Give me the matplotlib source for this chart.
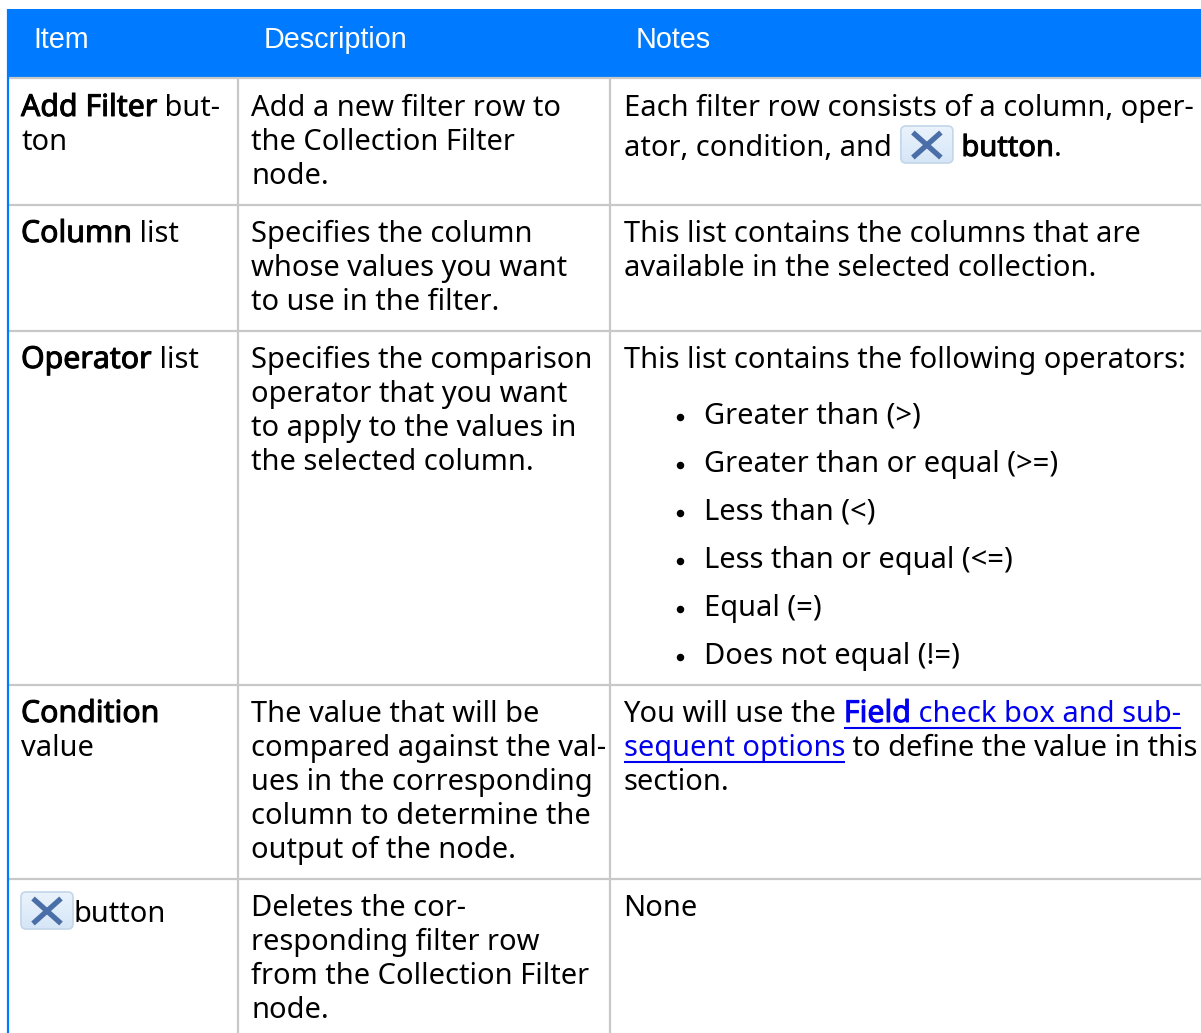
import numpy as np
import matplotlib
matplotlib.use('Agg')
import matplotlib.pyplot as plt
import matplotlib.patheffects as pe
from matplotlib.patches import FancyBboxPatch

# Table text. A run is (text, style), n = normal, b = bold, s = bold at normal width,
# l = link, lb = bold link, x = button icon
headers = ['Item', 'Description', 'Notes']

items = [
    [[('Add Filter', 'b'), (' but-', 'n')], [('ton', 'n')]],
    [[('Column', 'b'), (' list', 'n')]],
    [[('Operator', 'b'), (' list', 'n')]],
    [[('Condition', 'b')], [('value', 'n')]],
    [[('', 'x'), ('button', 'n')]],
]
descriptions = [
    ['Add a new filter row to', 'the Collection Filter', 'node.'],
    ['Specifies the column', 'whose values you want', 'to use in the filter.'],
    ['Specifies the comparison', 'operator that you want', 'to apply to the values in', 'the selected column.'],
    ['The value that will be', 'compared against the val-', 'ues in the corresponding', 'column to determine the', 'output of the node.'],
    ['Deletes the cor-', 'responding filter row', 'from the Collection Filter', 'node.'],
]
notes = [
    [[('Each filter row consists of a column, oper-', 'n')],
     [('ator, condition, and ', 'n'), ('', 'x'), (' button', 's'), ('.', 'n')]],
    [[('This list contains the columns that are', 'n')],
     [('available in the selected collection.', 'n')]],
    [[('This list contains the following operators:', 'n')]],
    [[('You will use the ', 'n'), ('Field', 'lb'), (' check box and sub-', 'l')],
     [('sequent options', 'l'), (' to define the value in this', 'n')],
     [('section.', 'n')]],
    [[('None', 'n')]],
]
operators = ['Greater than (>)', 'Greater than or equal (>=)', 'Less than (<)',
             'Less than or equal (<=)', 'Equal (=)', 'Does not equal (!=)']

# Layout in pixels
W, H = 1201, 1033
row_lines = [77, 204, 330, 684, 878]
col_lines = [238, 610]
header_x = [33, 264, 636]
text_x = [21, 251, 623.5]
first_base = [116, 242, 368, 722, 916]
item_base = [116, 242, 368, 722, 922]
line_h = 34
op_base = [424, 472, 520, 568, 616, 664]

BLUE = '#007bff'
GREY = '#c8c8c8'
LINK = '#0000ee'
FONT = 'Noto Sans'
SIZE = 20.95
BOLD_SIZE = 21.8

fig = plt.figure(figsize=(W / 100, H / 100), dpi=100)
ax = fig.add_axes([0, 0, 1, 1])
ax.set_xlim(0, W)
ax.set_ylim(H, 0)
ax.axis('off')
renderer = fig.canvas.get_renderer()
btn_cmap = matplotlib.colors.LinearSegmentedColormap.from_list('btn', ['#eaf3fc', '#d6e6f7'])


def draw_button(x, y, w=52, h=37):
    box = FancyBboxPatch((x + 3, y + 3), w - 6, h - 6, boxstyle='round,pad=3,rounding_size=5',
                         fc='none', ec='#c3d6ea', lw=1.2, zorder=3)
    ax.add_patch(box)
    grad = np.linspace(0, 1, 40).reshape(-1, 1)
    im = ax.imshow(grad, extent=(x, x + w, y + h, y), cmap=btn_cmap, aspect='auto', zorder=2)
    im.set_clip_path(box)
    for sx in (1, -1):
        ax.plot([x + w / 2 - sx * 14, x + w / 2 + sx * 14], [y + 6.5, y + h - 5.5], color='#4a6fa8',
                lw=3.8, solid_capstyle='butt', zorder=4)


def text_width(txt, size):
    # spaces at the ends are not in the extent, so measure between two letters
    a = ax.text(0, 0, 'a' + txt + 'a', fontsize=size, family=FONT)
    b = ax.text(0, 0, 'aa', fontsize=size, family=FONT)
    w = a.get_window_extent(renderer).width - b.get_window_extent(renderer).width
    a.remove()
    b.remove()
    return w


def draw_runs(x, y, runs):
    for k, (txt, style) in enumerate(runs):
        if style == 'x':
            if k > 0:
                x += 2
            draw_button(x, y - 30)
            x += 53
            continue
        col = LINK if style in ('l', 'lb') else 'black'
        size = BOLD_SIZE if style in ('b', 'lb') else SIZE
        t = ax.text(x, y, txt, fontsize=size, family=FONT, color=col, va='baseline', ha='left')
        if style in ('b', 'lb', 's'):
            t.set_path_effects([pe.withStroke(linewidth=0.7, foreground=col)])
        w = text_width(txt, size)
        if style in ('l', 'lb'):
            ax.plot([x, x + w], [y + 6, y + 6], color=LINK, lw=1.5, solid_capstyle='butt')
        x += w


# Header and borders
ax.fill_between([7, W], 9, row_lines[0], color=BLUE, lw=0, zorder=1)
ax.plot([8, 8], [9, H], color=BLUE, lw=1.6, solid_capstyle='butt', zorder=5)
for name, x in zip(headers, header_x):
    ax.text(x, 48, name, color='white', fontsize=20.7, family='Liberation Sans', va='baseline', zorder=6)
for y in row_lines:
    ax.plot([9, W], [y + 0.5, y + 0.5], color=GREY, lw=1.6, solid_capstyle='butt', zorder=1.5)
for x in col_lines:
    ax.plot([x, x], [row_lines[0], H], color=GREY, lw=1.6, solid_capstyle='butt', zorder=1.5)

# Cells
for i, base in enumerate(first_base):
    for j, runs in enumerate(items[i]):
        draw_runs(text_x[0], item_base[i] + j * line_h, runs)
    for j, line in enumerate(descriptions[i]):
        draw_runs(text_x[1], base + j * line_h, [(line, 'n')])
    step = 40 if i == 0 else line_h
    for j, runs in enumerate(notes[i]):
        draw_runs(text_x[2], base + j * step, runs)

for name, y in zip(operators, op_base):
    ax.plot([680], [y - 7.5], 'o', color='black', ms=5.4, mew=0)
    ax.text(704, y, name, fontsize=SIZE, family=FONT, va='baseline')

ax.set_xlim(0, W)
ax.set_ylim(H, 0)
fig.savefig('out.png', dpi=100, facecolor='white')
